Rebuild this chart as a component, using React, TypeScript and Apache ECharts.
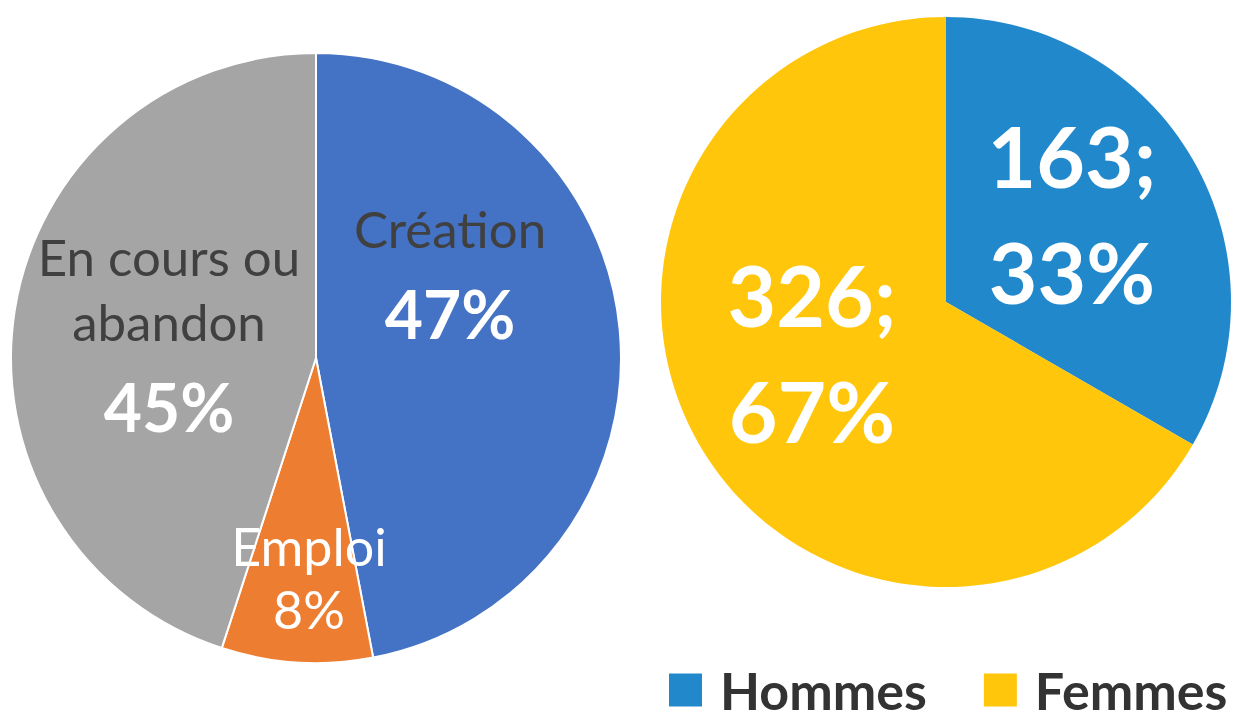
import React, { useEffect, useRef } from "react";
import * as echarts from "echarts";

const leftCategories = ["Création", "Emploi", "En cours ou abandon"];
const leftValues = [47, 8, 45];
const leftColors = ["#4472C4", "#ED7D31", "#A5A5A5"];

const rightCategories = ["Hommes", "Femmes"];
const rightValues = [163, 326];
const rightPercents = ["33%", "67%"];
const rightColors = ["#2288CC", "#FFC60B"];

const FONT = "Lato, 'Open Sans', sans-serif";

export default function App() {
  const ref = useRef<HTMLDivElement>(null);
  useEffect(() => {
    document.body.style.margin = "0";
    const chart = echarts.init(ref.current!, null, { renderer: "svg" });
    const leftLabelPos: [number, number][] = [
      [450, 281],
      [309, 577],
      [169, 341],
    ];
    const rightLabelShift: [number, number][] = [
      [0, -16],
      [-8, -22],
    ];
    const leftLabelFmt = (p: any) => {
      if (p.dataIndex === 0) return `{d|Création}\n{b|${p.value}%}`;
      if (p.dataIndex === 1) return `{w|Emploi}\n{w|${p.value}%}`;
      return `{d|En cours ou}\n{d|abandon}\n{b|${p.value}%}`;
    };
    chart.setOption({
      animation: false,
      backgroundColor: "#ffffff",
      textStyle: { fontFamily: FONT },
      legend: {
        data: rightCategories,
        left: 669,
        top: 664,
        padding: 0,
        itemWidth: 33,
        itemHeight: 33,
        itemGap: 57,
        icon: "rect",
        textStyle: {
          fontSize: 52,
          lineHeight: 50,
          fontWeight: "bold",
          color: "#333333",
          fontFamily: FONT,
          padding: [0, 0, 0, 13],
        },
      },
      series: [
        {
          type: "pie",
          center: [316, 358],
          radius: [0, 305],
          startAngle: 90,
          clockwise: true,
          silent: true,
          itemStyle: { borderColor: "#ffffff", borderWidth: 2 },
          label: {
            show: true,
            position: "inside",
            formatter: leftLabelFmt,
            align: "center",
            rich: {
              d: { fontSize: 51, color: "#404040", lineHeight: 65, fontFamily: FONT },
              w: { fontSize: 52, color: "#ffffff", lineHeight: 63, fontFamily: FONT },
              b: { fontSize: 66, color: "#ffffff", fontWeight: "bold", lineHeight: 105, fontFamily: FONT },
            },
          },
          labelLayout: (p: any) => {
            const pos = leftLabelPos[p.dataIndex];
            return { x: pos[0], y: pos[1], align: "center", verticalAlign: "middle" };
          },
          data: leftCategories.map((c, i) => ({
            name: c,
            value: leftValues[i],
            itemStyle: { color: leftColors[i] },
          })),
        },
        {
          type: "pie",
          center: [946, 302],
          radius: [0, 285],
          startAngle: 90,
          clockwise: true,
          silent: true,
          itemStyle: { borderWidth: 0 },
          label: {
            show: true,
            position: "inside",
            formatter: (p: any) => `{b|${p.value};}\n{b|${rightPercents[p.dataIndex]}}`,
            align: "center",
            rich: {
              b: { fontSize: 84, color: "#ffffff", fontWeight: "bold", lineHeight: 116, fontFamily: FONT },
            },
          },
          labelLayout: (p: any) => {
            const s = rightLabelShift[p.dataIndex];
            return { dx: s[0], dy: s[1] };
          },
          data: rightCategories.map((c, i) => ({
            name: c,
            value: rightValues[i],
            itemStyle: { color: rightColors[i] },
          })),
        },
      ],
    });
    return () => chart.dispose();
  }, []);
  return <div ref={ref} style={{ width: 1241, height: 722 }} />;
}
